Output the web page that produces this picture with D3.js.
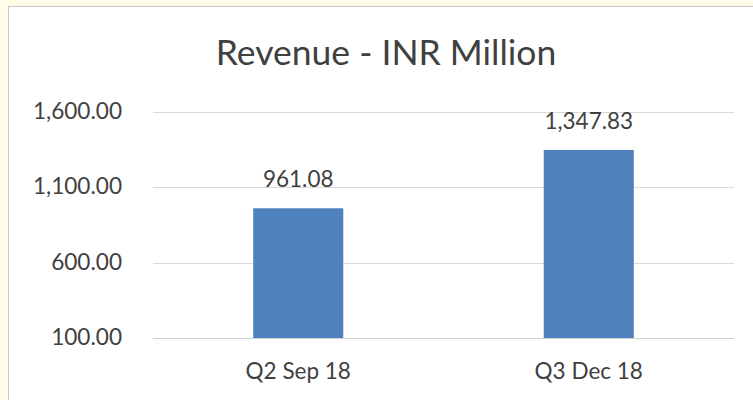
<!DOCTYPE html>
<html>
<head>
<meta charset="utf-8">
<script src="https://cdn.jsdelivr.net/npm/d3@7"></script>
<style>
  body { margin: 0; background: #fffde8; overflow: hidden; }
  svg { display: block; }
</style>
</head>
<body>
<svg id="chart" width="753" height="400"></svg>
<script>
// data
const categories = ['Q2 Sep 18', 'Q3 Dec 18'];
const revenue = [961.08, 1347.83];
const yTicks = [100, 600, 1100, 1600];

const svg = d3.select('#chart');
const font = "Lato, 'Open Sans', sans-serif";

// chart area (white panel with grey border)
svg.append('rect')
  .attr('x', 8.5).attr('y', 6.5)
  .attr('width', 760).attr('height', 410)
  .attr('fill', '#fff')
  .attr('stroke', '#c8c8c8');

const plotLeft = 153, plotRight = 734, plotTop = 112, plotBottom = 338;

const x = d3.scaleBand()
  .domain(categories)
  .range([plotLeft, plotRight])
  .paddingInner(0.69)
  .paddingOuter(0.345);

const y = d3.scaleLinear()
  .domain([100, 1600])
  .range([plotBottom, plotTop]);

// gridlines
svg.append('g')
  .selectAll('line')
  .data(yTicks)
  .join('line')
  .attr('x1', plotLeft).attr('x2', plotRight)
  .attr('y1', d => Math.round(y(d)) + 0.5)
  .attr('y2', d => Math.round(y(d)) + 0.5)
  .attr('stroke', d => d === 100 ? '#cfcfcf' : '#d9d9d9')
  .attr('stroke-width', 1.2);

// y tick labels
const fmt = d3.format(',.2f');
svg.append('g')
  .selectAll('text')
  .data(yTicks)
  .join('text')
  .text(d => fmt(d))
  .attr('x', 122)
  .attr('y', d => y(d) + 7)
  .attr('text-anchor', 'end')
  .attr('font-family', font)
  .attr('font-size', '22.6px')
  .attr('fill', '#404040');

// bars
svg.append('g')
  .selectAll('rect')
  .data(revenue)
  .join('rect')
  .attr('x', (d, i) => x(categories[i]))
  .attr('y', d => y(d))
  .attr('width', x.bandwidth())
  .attr('height', d => y(100) - y(d))
  .attr('fill', '#4f81bd');

// value labels
svg.append('g')
  .selectAll('text')
  .data(revenue)
  .join('text')
  .text(d => fmt(d))
  .attr('x', (d, i) => x(categories[i]) + x.bandwidth() / 2)
  .attr('y', d => y(d) - 21)
  .attr('text-anchor', 'middle')
  .attr('font-family', font)
  .attr('font-size', '22.5px')
  .attr('fill', '#404040');

// category labels
svg.append('g')
  .selectAll('text')
  .data(categories)
  .join('text')
  .text(d => d)
  .attr('x', d => x(d) + x.bandwidth() / 2)
  .attr('y', 379)
  .attr('text-anchor', 'middle')
  .attr('font-family', font)
  .attr('font-size', '22.5px')
  .attr('fill', '#404040');

// title
svg.append('text')
  .text('Revenue - INR Million')
  .attr('x', 386)
  .attr('y', 65)
  .attr('text-anchor', 'middle')
  .attr('font-family', font)
  .attr('font-size', '35.5px')
  .attr('fill', '#404040');
</script>
</body>
</html>
